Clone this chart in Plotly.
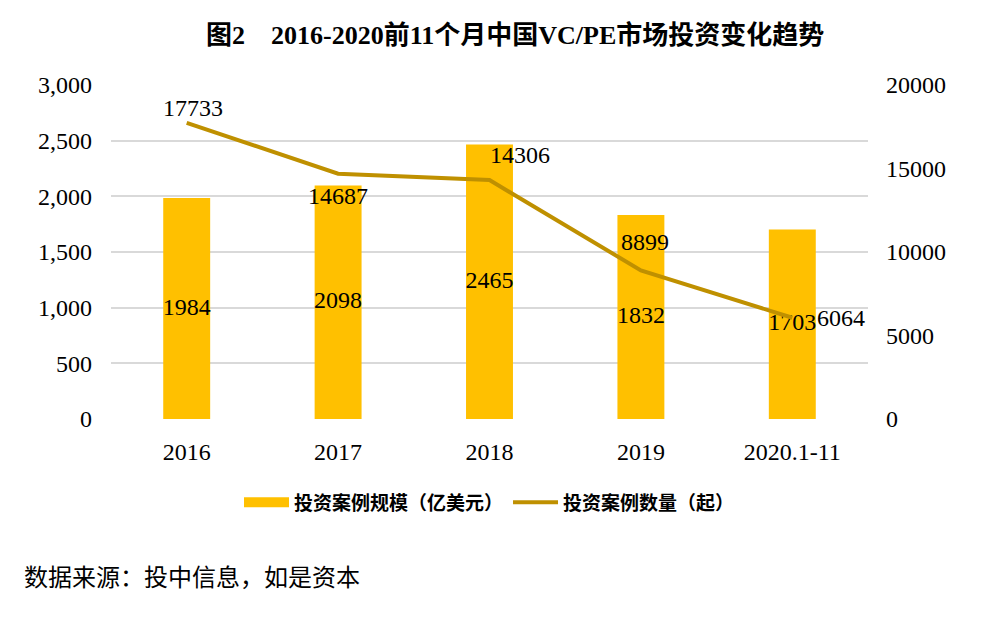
import plotly.graph_objects as go

categories = ["2016", "2017", "2018", "2019", "2020.1-11"]
scale_values = [1984, 2098, 2465, 1832, 1703]
count_values = [17733, 14687, 14306, 8899, 6064]
left_ticks = [0, 500, 1000, 1500, 2000, 2500, 3000]
right_ticks = [0, 5000, 10000, 15000, 20000]

# label offsets (pixels) for line data labels
count_label_dx = [6, 0, 30, 4, 49]
count_label_dy = [15, -22, 25, 28, 0]

FONT = "Liberation Serif, 'Times New Roman', 'Noto Sans CJK SC', serif"
BAR_COLOR = "#FFC000"
LINE_COLOR = "#BF9000"

fig = go.Figure()
fig.add_trace(go.Bar(
    x=categories, y=scale_values, name="投资案例规模（亿美元）",
    marker=dict(color=BAR_COLOR, line=dict(width=0)), width=0.31,
    yaxis="y", showlegend=False,
))
fig.add_trace(go.Scatter(
    x=categories, y=[v / 2 for v in scale_values], mode="text",
    text=[str(v) for v in scale_values], textposition="middle center",
    textfont=dict(family=FONT, size=24, color="black"),
    showlegend=False, hoverinfo="skip", yaxis="y",
))
fig.add_trace(go.Scatter(
    x=categories, y=count_values, name="<b>投资案例数量（起）</b>", mode="lines",
    line=dict(color=LINE_COLOR, width=4), yaxis="y2", legendrank=2,
))
# legend-only swatch for the bars (wide rectangle like the reference)
fig.add_trace(go.Scatter(
    x=[categories[0]], y=[None], mode="lines", name="<b>投资案例规模（亿美元）</b>",
    line=dict(color=BAR_COLOR, width=15), yaxis="y", hoverinfo="skip",
    legendrank=1,
))

annotations = []
# category axis: annotation x given as category index
for i, (v, dx, dy) in enumerate(zip(count_values, count_label_dx, count_label_dy)):
    annotations.append(dict(
        x=i, y=v, xref="x", yref="y2", text=str(v), showarrow=False,
        xanchor="center", yanchor="middle", xshift=dx, yshift=dy,
        font=dict(family=FONT, size=24, color="black"),
    ))
annotations.append(dict(
    text="数据来源：投中信息，如是资本", xref="paper", yref="paper",
    x=-0.1176, y=-0.476, xanchor="left", yanchor="middle",
    showarrow=False, font=dict(family=FONT, size=24, color="black")))

fig.update_layout(
    width=981, height=617,
    margin=dict(l=103, r=121, t=77, b=206),
    paper_bgcolor="white", plot_bgcolor="white",
    font=dict(family=FONT, size=24, color="black"),
    title=dict(text="<b>图2　2016-2020前11个月中国VC/PE市场投资变化趋势</b>",
               x=0.517, xanchor="center", y=0.956, yanchor="middle",
               font=dict(family=FONT, size=26, color="black")),
    xaxis=dict(type="category", range=[-0.5, len(categories) - 0.5],
               showgrid=False, showline=False, ticks="", tickfont=dict(size=24),
               ticklabelstandoff=16),
    yaxis=dict(range=[0, 3000], tickvals=left_ticks, tickformat=",",
               showgrid=True, gridcolor="#D9D9D9", gridwidth=2,
               zeroline=False, showline=False, ticks="", ticklabelstandoff=18,
               tickfont=dict(size=24)),
    yaxis2=dict(range=[0, 20000], tickvals=right_ticks, tickformat="d",
                overlaying="y", side="right", showgrid=False, zeroline=False,
                showline=False, ticks="", ticklabelstandoff=17,
                tickfont=dict(size=24)),
    legend=dict(orientation="h", x=0.5, xanchor="center", y=-0.25, yanchor="middle",
                font=dict(family=FONT, size=19, color="black"),
                itemwidth=45, traceorder="normal"),
    showlegend=True,
    annotations=annotations,
)
fig.write_html("out.html")
